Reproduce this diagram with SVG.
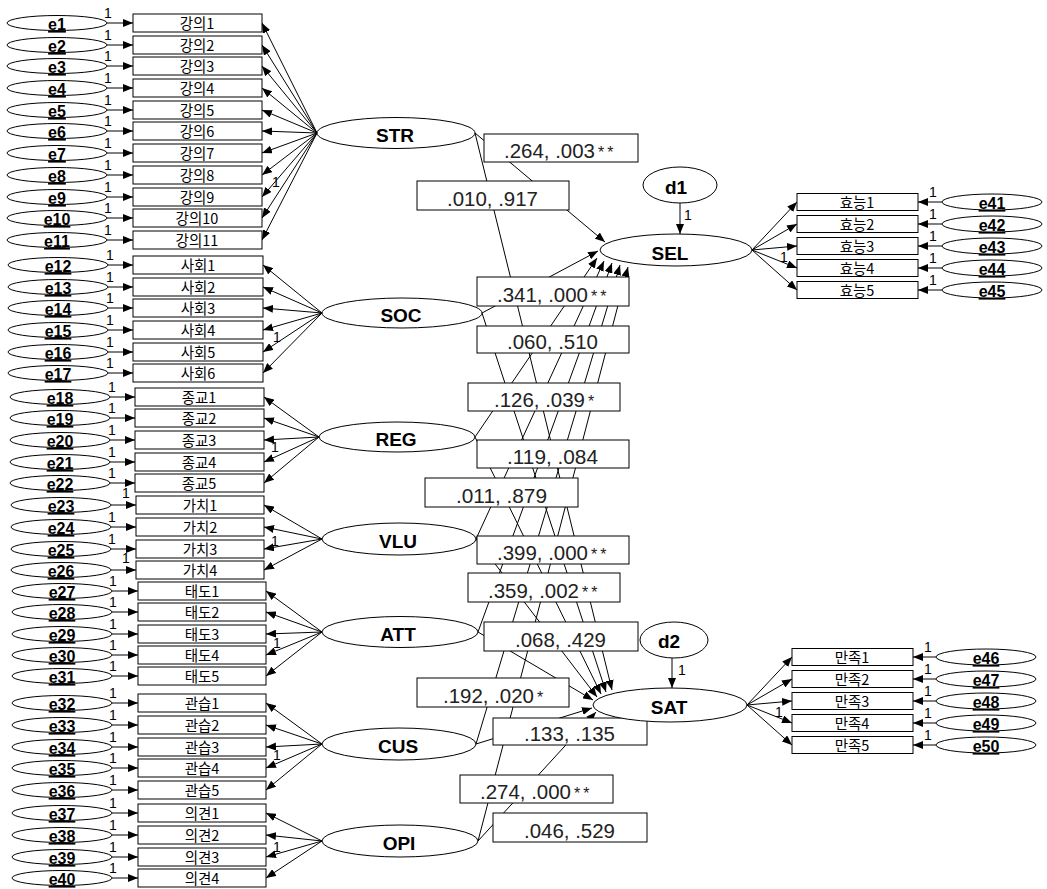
<svg xmlns="http://www.w3.org/2000/svg" width="1047" height="889" viewBox="0 0 1047 889">
<defs>
<marker id="ah" markerWidth="10" markerHeight="8" refX="10" refY="4" orient="auto" markerUnits="userSpaceOnUse"><path d="M0,0 L10,4 L0,8 z" fill="#000"/></marker>
<style>
.ln{stroke:#000;stroke-width:1;fill:none;marker-end:url(#ah)}
.ov{fill:#fff;stroke:#000;stroke-width:1}
.bx{fill:#fff;stroke:#000;stroke-width:1}
.el{font-family:"Liberation Sans",Arial,sans-serif;font-weight:bold;font-size:16px;text-decoration:underline;text-anchor:middle;fill:#000;transform:translateY(-1.5px)}
.kr{font-family:"Noto Sans CJK KR","Noto Sans",sans-serif;font-size:14.5px;text-anchor:middle;fill:#000}
.lat{font-family:"Liberation Sans",Arial,sans-serif;font-weight:bold;font-size:19px;text-anchor:middle;fill:#000}
.one text{font-family:"Liberation Sans",Arial,sans-serif;font-size:14px;fill:#000}
.pv{font-family:"Liberation Sans",Arial,sans-serif;font-size:20px;fill:#222}
.st{font-family:"Liberation Sans",Arial,sans-serif;font-size:16px;fill:#222;letter-spacing:3px}
</style>
</defs>
<rect width="1047" height="889" fill="#fff"/>

<g id="connectors">
<line class="ln" x1="107" y1="23" x2="133" y2="23"/><line class="ln" x1="107" y1="45" x2="133" y2="45"/><line class="ln" x1="107" y1="66" x2="133" y2="66"/><line class="ln" x1="107" y1="88" x2="133" y2="88"/><line class="ln" x1="107" y1="110" x2="133" y2="110"/><line class="ln" x1="107" y1="131" x2="133" y2="131"/><line class="ln" x1="107" y1="153" x2="133" y2="153"/><line class="ln" x1="107" y1="175" x2="133" y2="175"/><line class="ln" x1="107" y1="197" x2="133" y2="197"/><line class="ln" x1="107" y1="218" x2="133" y2="218"/><line class="ln" x1="107" y1="240" x2="133" y2="240"/>
<line class="ln" x1="108" y1="265" x2="133" y2="265"/><line class="ln" x1="108" y1="287" x2="133" y2="287"/><line class="ln" x1="108" y1="308" x2="133" y2="308"/><line class="ln" x1="108" y1="330" x2="133" y2="330"/><line class="ln" x1="108" y1="352" x2="133" y2="352"/><line class="ln" x1="108" y1="373" x2="133" y2="373"/>
<line class="ln" x1="110" y1="397" x2="135" y2="397"/><line class="ln" x1="110" y1="418" x2="135" y2="418"/><line class="ln" x1="110" y1="440" x2="135" y2="440"/><line class="ln" x1="110" y1="462" x2="135" y2="462"/><line class="ln" x1="110" y1="483" x2="135" y2="483"/>
<line class="ln" x1="111" y1="505" x2="136" y2="505"/><line class="ln" x1="111" y1="527" x2="136" y2="527"/><line class="ln" x1="111" y1="549" x2="136" y2="549"/><line class="ln" x1="111" y1="570" x2="136" y2="570"/>
<line class="ln" x1="112" y1="591" x2="138" y2="591"/><line class="ln" x1="112" y1="612" x2="138" y2="612"/><line class="ln" x1="112" y1="634" x2="138" y2="634"/><line class="ln" x1="112" y1="655" x2="138" y2="655"/><line class="ln" x1="112" y1="676" x2="138" y2="676"/>
<line class="ln" x1="112" y1="703" x2="138" y2="703"/><line class="ln" x1="112" y1="725" x2="138" y2="725"/><line class="ln" x1="112" y1="747" x2="138" y2="747"/><line class="ln" x1="112" y1="768" x2="138" y2="768"/><line class="ln" x1="112" y1="790" x2="138" y2="790"/>
<line class="ln" x1="112" y1="813" x2="138" y2="813"/><line class="ln" x1="112" y1="835" x2="138" y2="835"/><line class="ln" x1="112" y1="857" x2="138" y2="857"/><line class="ln" x1="112" y1="878" x2="138" y2="878"/>
<line class="ln" x1="317" y1="133" x2="262" y2="23"/><line class="ln" x1="317" y1="133" x2="262" y2="45"/><line class="ln" x1="317" y1="133" x2="262" y2="66"/><line class="ln" x1="317" y1="133" x2="262" y2="88"/><line class="ln" x1="317" y1="133" x2="262" y2="110"/><line class="ln" x1="317" y1="133" x2="262" y2="131"/><line class="ln" x1="317" y1="133" x2="262" y2="153"/><line class="ln" x1="317" y1="133" x2="262" y2="175"/><line class="ln" x1="317" y1="133" x2="262" y2="197"/><line class="ln" x1="317" y1="133" x2="262" y2="218"/><line class="ln" x1="317" y1="133" x2="262" y2="240"/>
<line class="ln" x1="322" y1="313" x2="263" y2="265"/><line class="ln" x1="322" y1="313" x2="263" y2="287"/><line class="ln" x1="322" y1="313" x2="263" y2="308"/><line class="ln" x1="322" y1="313" x2="263" y2="330"/><line class="ln" x1="322" y1="313" x2="263" y2="352"/><line class="ln" x1="322" y1="313" x2="263" y2="373"/>
<line class="ln" x1="319" y1="437" x2="264" y2="397"/><line class="ln" x1="319" y1="437" x2="264" y2="418"/><line class="ln" x1="319" y1="437" x2="264" y2="440"/><line class="ln" x1="319" y1="437" x2="264" y2="462"/><line class="ln" x1="319" y1="437" x2="264" y2="483"/>
<line class="ln" x1="322" y1="539" x2="264" y2="505"/><line class="ln" x1="322" y1="539" x2="264" y2="527"/><line class="ln" x1="322" y1="539" x2="264" y2="549"/><line class="ln" x1="322" y1="539" x2="264" y2="570"/>
<line class="ln" x1="322" y1="632" x2="266" y2="591"/><line class="ln" x1="322" y1="632" x2="266" y2="612"/><line class="ln" x1="322" y1="632" x2="266" y2="634"/><line class="ln" x1="322" y1="632" x2="266" y2="655"/><line class="ln" x1="322" y1="632" x2="266" y2="676"/>
<line class="ln" x1="322" y1="744" x2="266" y2="703"/><line class="ln" x1="322" y1="744" x2="266" y2="725"/><line class="ln" x1="322" y1="744" x2="266" y2="747"/><line class="ln" x1="322" y1="744" x2="266" y2="768"/><line class="ln" x1="322" y1="744" x2="266" y2="790"/>
<line class="ln" x1="322" y1="841" x2="266" y2="813"/><line class="ln" x1="322" y1="841" x2="266" y2="835"/><line class="ln" x1="322" y1="841" x2="266" y2="857"/><line class="ln" x1="322" y1="841" x2="266" y2="878"/>
<line class="ln" x1="475" y1="133" x2="605" y2="242"/>
<line class="ln" x1="475" y1="133" x2="612" y2="690"/>
<line class="ln" x1="482" y1="313" x2="598" y2="251"/>
<line class="ln" x1="482" y1="313" x2="606" y2="692"/>
<line class="ln" x1="475" y1="437" x2="597" y2="258"/>
<line class="ln" x1="475" y1="437" x2="601" y2="694"/>
<line class="ln" x1="476" y1="539" x2="604" y2="261"/>
<line class="ln" x1="476" y1="539" x2="597" y2="697"/>
<line class="ln" x1="478" y1="632" x2="612" y2="263"/>
<line class="ln" x1="478" y1="632" x2="593" y2="700"/>
<line class="ln" x1="476" y1="744" x2="620" y2="265"/>
<line class="ln" x1="476" y1="744" x2="592" y2="708"/>
<line class="ln" x1="478" y1="841" x2="628" y2="267"/>
<line class="ln" x1="478" y1="841" x2="596" y2="712"/>
<line class="ln" x1="680" y1="203" x2="680" y2="234"/>
<line class="ln" x1="672" y1="658" x2="672" y2="688"/>
<line class="ln" x1="752" y1="250" x2="797" y2="202"/><line class="ln" x1="752" y1="250" x2="797" y2="224"/><line class="ln" x1="752" y1="250" x2="797" y2="246"/><line class="ln" x1="752" y1="250" x2="797" y2="268"/><line class="ln" x1="752" y1="250" x2="797" y2="290"/>
<line class="ln" x1="942" y1="202" x2="918" y2="202"/><line class="ln" x1="942" y1="224" x2="918" y2="224"/><line class="ln" x1="942" y1="246" x2="918" y2="246"/><line class="ln" x1="942" y1="268" x2="918" y2="268"/><line class="ln" x1="942" y1="290" x2="918" y2="290"/>
<line class="ln" x1="747" y1="705" x2="792" y2="657"/><line class="ln" x1="747" y1="705" x2="792" y2="679"/><line class="ln" x1="747" y1="705" x2="792" y2="701"/><line class="ln" x1="747" y1="705" x2="792" y2="723"/><line class="ln" x1="747" y1="705" x2="792" y2="745"/>
<line class="ln" x1="936" y1="657" x2="913" y2="657"/><line class="ln" x1="936" y1="679" x2="913" y2="679"/><line class="ln" x1="936" y1="701" x2="913" y2="701"/><line class="ln" x1="936" y1="723" x2="913" y2="723"/><line class="ln" x1="936" y1="745" x2="913" y2="745"/>
<g class="one">
<text x="104" y="18">1</text><text x="104" y="40">1</text><text x="104" y="61">1</text><text x="104" y="83">1</text><text x="104" y="105">1</text><text x="104" y="126">1</text><text x="104" y="148">1</text><text x="104" y="170">1</text><text x="104" y="192">1</text><text x="104" y="213">1</text><text x="104" y="235">1</text>
<text x="106" y="260">1</text><text x="106" y="282">1</text><text x="106" y="303">1</text><text x="106" y="325">1</text><text x="106" y="347">1</text><text x="106" y="368">1</text>
<text x="108" y="392">1</text><text x="108" y="413">1</text><text x="108" y="435">1</text><text x="108" y="457">1</text><text x="108" y="478">1</text>
<text x="122" y="498">1</text><text x="108" y="522">1</text><text x="108" y="544">1</text><text x="122" y="563">1</text>
<text x="109" y="586">1</text><text x="109" y="607">1</text><text x="109" y="629">1</text><text x="109" y="650">1</text><text x="109" y="671">1</text>
<text x="109" y="698">1</text><text x="109" y="720">1</text><text x="109" y="742">1</text><text x="109" y="763">1</text><text x="109" y="785">1</text>
<text x="109" y="808">1</text><text x="109" y="830">1</text><text x="109" y="852">1</text><text x="109" y="873">1</text>
<text x="272" y="187">1</text><text x="273" y="342">1</text><text x="271" y="452">1</text><text x="271" y="546">1</text><text x="273" y="648">1</text><text x="273" y="760">1</text><text x="273" y="852">1</text>
<text x="780" y="262">1</text><text x="775" y="717">1</text>
<text x="684" y="220">1</text><text x="678" y="675">1</text>
<text x="929" y="197">1</text><text x="929" y="219">1</text><text x="929" y="241">1</text><text x="929" y="263">1</text><text x="929" y="285">1</text>
<text x="924" y="652">1</text><text x="924" y="674">1</text><text x="924" y="696">1</text><text x="924" y="718">1</text><text x="924" y="740">1</text>
</g>
</g>

<g id="path-labels">
<rect class="bx" x="484" y="134" width="154" height="28"/><text class="pv" x="504" y="158" textLength="91" lengthAdjust="spacingAndGlyphs">.264, .003</text><text class="st" x="598" y="158">**</text>
<rect class="bx" x="417" y="181" width="152" height="29"/><text class="pv" x="447" y="206" textLength="91" lengthAdjust="spacingAndGlyphs">.010, .917</text>
<rect class="bx" x="477" y="277" width="152" height="29"/><text class="pv" x="497" y="302" textLength="91" lengthAdjust="spacingAndGlyphs">.341, .000</text><text class="st" x="591" y="302">**</text>
<rect class="bx" x="477" y="326" width="152" height="27"/><text class="pv" x="507" y="349" textLength="91" lengthAdjust="spacingAndGlyphs">.060, .510</text>
<rect class="bx" x="468" y="383" width="152" height="28"/><text class="pv" x="494" y="407" textLength="91" lengthAdjust="spacingAndGlyphs">.126, .039</text><text class="st" x="588" y="407">*</text>
<rect class="bx" x="477" y="440" width="152" height="28"/><text class="pv" x="507" y="464" textLength="91" lengthAdjust="spacingAndGlyphs">.119, .084</text>
<rect class="bx" x="425" y="478" width="153" height="29"/><text class="pv" x="456" y="503" textLength="91" lengthAdjust="spacingAndGlyphs">.011, .879</text>
<rect class="bx" x="477" y="536" width="152" height="28"/><text class="pv" x="497" y="560" textLength="91" lengthAdjust="spacingAndGlyphs">.399, .000</text><text class="st" x="591" y="560">**</text>
<rect class="bx" x="468" y="573" width="152" height="29"/><text class="pv" x="488" y="598" textLength="91" lengthAdjust="spacingAndGlyphs">.359, .002</text><text class="st" x="582" y="598">**</text>
<rect class="bx" x="484" y="622" width="154" height="29"/><text class="pv" x="515" y="647" textLength="91" lengthAdjust="spacingAndGlyphs">.068, .429</text>
<rect class="bx" x="417" y="678" width="152" height="29"/><text class="pv" x="443" y="703" textLength="91" lengthAdjust="spacingAndGlyphs">.192, .020</text><text class="st" x="537" y="703">*</text>
<rect class="bx" x="493" y="718" width="154" height="27"/><text class="pv" x="524" y="741" textLength="91" lengthAdjust="spacingAndGlyphs">.133, .135</text>
<rect class="bx" x="460" y="775" width="153" height="28"/><text class="pv" x="480" y="799" textLength="91" lengthAdjust="spacingAndGlyphs">.274, .000</text><text class="st" x="574" y="799">**</text>
<rect class="bx" x="493" y="813" width="154" height="29"/><text class="pv" x="524" y="838" textLength="91" lengthAdjust="spacingAndGlyphs">.046, .529</text>
</g>

<g id="STR"><ellipse class="ov" cx="396" cy="133" rx="79" ry="15.5"/><text class="lat" x="395" y="142">STR</text></g>
<g id="SOC"><ellipse class="ov" cx="402" cy="313" rx="80" ry="15"/><text class="lat" x="401" y="322">SOC</text></g>
<g id="REG"><ellipse class="ov" cx="397" cy="437" rx="78" ry="15"/><text class="lat" x="396" y="446">REG</text></g>
<g id="VLU"><ellipse class="ov" cx="399" cy="539" rx="77" ry="16"/><text class="lat" x="398" y="548">VLU</text></g>
<g id="ATT"><ellipse class="ov" cx="400" cy="632" rx="78" ry="15.5"/><text class="lat" x="398" y="641">ATT</text></g>
<g id="CUS"><ellipse class="ov" cx="399" cy="744" rx="77" ry="16"/><text class="lat" x="398" y="753">CUS</text></g>
<g id="OPI"><ellipse class="ov" cx="400" cy="841" rx="78" ry="16"/><text class="lat" x="399" y="850">OPI</text></g>
<g id="SEL"><ellipse class="ov" cx="676" cy="250" rx="76" ry="16"/><text class="lat" x="670" y="260">SEL</text></g>
<g id="SAT"><ellipse class="ov" cx="670" cy="705" rx="77" ry="17"/><text class="lat" x="669" y="714">SAT</text></g>
<g id="d1"><ellipse class="ov" cx="680" cy="185" rx="37" ry="18"/><text class="lat" x="676" y="194">d1</text></g>
<g id="d2"><ellipse class="ov" cx="674" cy="640" rx="34" ry="18"/><text class="lat" x="669" y="648">d2</text></g>

<g id="v1"><rect class="bx" x="133" y="14" width="129" height="18"/><text class="kr" x="197" y="29">강의1</text></g>
<g id="v2"><rect class="bx" x="133" y="36" width="129" height="18"/><text class="kr" x="197" y="51">강의2</text></g>
<g id="v3"><rect class="bx" x="133" y="57" width="129" height="18"/><text class="kr" x="197" y="72">강의3</text></g>
<g id="v4"><rect class="bx" x="133" y="79" width="129" height="18"/><text class="kr" x="197" y="94">강의4</text></g>
<g id="v5"><rect class="bx" x="133" y="101" width="129" height="18"/><text class="kr" x="197" y="116">강의5</text></g>
<g id="v6"><rect class="bx" x="133" y="122" width="129" height="18"/><text class="kr" x="197" y="137">강의6</text></g>
<g id="v7"><rect class="bx" x="133" y="144" width="129" height="18"/><text class="kr" x="197" y="159">강의7</text></g>
<g id="v8"><rect class="bx" x="133" y="166" width="129" height="18"/><text class="kr" x="197" y="181">강의8</text></g>
<g id="v9"><rect class="bx" x="133" y="188" width="129" height="18"/><text class="kr" x="197" y="203">강의9</text></g>
<g id="v10"><rect class="bx" x="133" y="209" width="129" height="18"/><text class="kr" x="197" y="224">강의10</text></g>
<g id="v11"><rect class="bx" x="133" y="231" width="129" height="18"/><text class="kr" x="197" y="246">강의11</text></g>
<g id="v12"><rect class="bx" x="133" y="256" width="130" height="18"/><text class="kr" x="198" y="271">사회1</text></g>
<g id="v13"><rect class="bx" x="133" y="278" width="130" height="18"/><text class="kr" x="198" y="293">사회2</text></g>
<g id="v14"><rect class="bx" x="133" y="299" width="130" height="18"/><text class="kr" x="198" y="314">사회3</text></g>
<g id="v15"><rect class="bx" x="133" y="321" width="130" height="18"/><text class="kr" x="198" y="336">사회4</text></g>
<g id="v16"><rect class="bx" x="133" y="343" width="130" height="18"/><text class="kr" x="198" y="358">사회5</text></g>
<g id="v17"><rect class="bx" x="133" y="364" width="130" height="18"/><text class="kr" x="198" y="379">사회6</text></g>
<g id="v18"><rect class="bx" x="135" y="388" width="129" height="18"/><text class="kr" x="199" y="403">종교1</text></g>
<g id="v19"><rect class="bx" x="135" y="409" width="129" height="18"/><text class="kr" x="199" y="424">종교2</text></g>
<g id="v20"><rect class="bx" x="135" y="431" width="129" height="18"/><text class="kr" x="199" y="446">종교3</text></g>
<g id="v21"><rect class="bx" x="135" y="453" width="129" height="18"/><text class="kr" x="199" y="468">종교4</text></g>
<g id="v22"><rect class="bx" x="135" y="474" width="129" height="18"/><text class="kr" x="199" y="489">종교5</text></g>
<g id="v23"><rect class="bx" x="136" y="496" width="128" height="18"/><text class="kr" x="200" y="511">가치1</text></g>
<g id="v24"><rect class="bx" x="136" y="518" width="128" height="18"/><text class="kr" x="200" y="533">가치2</text></g>
<g id="v25"><rect class="bx" x="136" y="540" width="128" height="18"/><text class="kr" x="200" y="555">가치3</text></g>
<g id="v26"><rect class="bx" x="136" y="561" width="128" height="18"/><text class="kr" x="200" y="576">가치4</text></g>
<g id="v27"><rect class="bx" x="138" y="582" width="128" height="18"/><text class="kr" x="202" y="597">태도1</text></g>
<g id="v28"><rect class="bx" x="138" y="603" width="128" height="18"/><text class="kr" x="202" y="618">태도2</text></g>
<g id="v29"><rect class="bx" x="138" y="625" width="128" height="18"/><text class="kr" x="202" y="640">태도3</text></g>
<g id="v30"><rect class="bx" x="138" y="646" width="128" height="18"/><text class="kr" x="202" y="661">태도4</text></g>
<g id="v31"><rect class="bx" x="138" y="667" width="128" height="18"/><text class="kr" x="202" y="682">태도5</text></g>
<g id="v32"><rect class="bx" x="138" y="694" width="128" height="18"/><text class="kr" x="202" y="709">관습1</text></g>
<g id="v33"><rect class="bx" x="138" y="716" width="128" height="18"/><text class="kr" x="202" y="731">관습2</text></g>
<g id="v34"><rect class="bx" x="138" y="738" width="128" height="18"/><text class="kr" x="202" y="753">관습3</text></g>
<g id="v35"><rect class="bx" x="138" y="759" width="128" height="18"/><text class="kr" x="202" y="774">관습4</text></g>
<g id="v36"><rect class="bx" x="138" y="781" width="128" height="18"/><text class="kr" x="202" y="796">관습5</text></g>
<g id="v37"><rect class="bx" x="138" y="804" width="128" height="18"/><text class="kr" x="202" y="819">의견1</text></g>
<g id="v38"><rect class="bx" x="138" y="826" width="128" height="18"/><text class="kr" x="202" y="841">의견2</text></g>
<g id="v39"><rect class="bx" x="138" y="848" width="128" height="18"/><text class="kr" x="202" y="863">의견3</text></g>
<g id="v40"><rect class="bx" x="138" y="869" width="128" height="18"/><text class="kr" x="202" y="884">의견4</text></g>
<g id="v41"><rect class="bx" x="797" y="193.5" width="121" height="17"/><text class="kr" x="857" y="208">효능1</text></g>
<g id="v42"><rect class="bx" x="797" y="215.5" width="121" height="17"/><text class="kr" x="857" y="230">효능2</text></g>
<g id="v43"><rect class="bx" x="797" y="237.5" width="121" height="17"/><text class="kr" x="857" y="252">효능3</text></g>
<g id="v44"><rect class="bx" x="797" y="259.5" width="121" height="17"/><text class="kr" x="857" y="274">효능4</text></g>
<g id="v45"><rect class="bx" x="797" y="281.5" width="121" height="17"/><text class="kr" x="857" y="296">효능5</text></g>
<g id="v46"><rect class="bx" x="792" y="648.5" width="121" height="17"/><text class="kr" x="852" y="663">만족1</text></g>
<g id="v47"><rect class="bx" x="792" y="670.5" width="121" height="17"/><text class="kr" x="852" y="685">만족2</text></g>
<g id="v48"><rect class="bx" x="792" y="692.5" width="121" height="17"/><text class="kr" x="852" y="707">만족3</text></g>
<g id="v49"><rect class="bx" x="792" y="714.5" width="121" height="17"/><text class="kr" x="852" y="729">만족4</text></g>
<g id="v50"><rect class="bx" x="792" y="736.5" width="121" height="17"/><text class="kr" x="852" y="751">만족5</text></g>

<g id="e1"><ellipse class="ov" cx="57" cy="23" rx="50" ry="7.5"/><text class="el" x="57" y="31.5">e1</text></g>
<g id="e2"><ellipse class="ov" cx="57" cy="45" rx="50" ry="7.5"/><text class="el" x="57" y="53.5">e2</text></g>
<g id="e3"><ellipse class="ov" cx="57" cy="66" rx="50" ry="7.5"/><text class="el" x="57" y="74.5">e3</text></g>
<g id="e4"><ellipse class="ov" cx="57" cy="88" rx="50" ry="7.5"/><text class="el" x="57" y="96.5">e4</text></g>
<g id="e5"><ellipse class="ov" cx="57" cy="110" rx="50" ry="7.5"/><text class="el" x="57" y="118.5">e5</text></g>
<g id="e6"><ellipse class="ov" cx="57" cy="131" rx="50" ry="7.5"/><text class="el" x="57" y="139.5">e6</text></g>
<g id="e7"><ellipse class="ov" cx="57" cy="153" rx="50" ry="7.5"/><text class="el" x="57" y="161.5">e7</text></g>
<g id="e8"><ellipse class="ov" cx="57" cy="175" rx="50" ry="7.5"/><text class="el" x="57" y="183.5">e8</text></g>
<g id="e9"><ellipse class="ov" cx="57" cy="197" rx="50" ry="7.5"/><text class="el" x="57" y="205.5">e9</text></g>
<g id="e10"><ellipse class="ov" cx="57" cy="218" rx="50" ry="7.5"/><text class="el" x="57" y="226.5">e10</text></g>
<g id="e11"><ellipse class="ov" cx="57" cy="240" rx="50" ry="7.5"/><text class="el" x="57" y="248.5">e11</text></g>
<g id="e12"><ellipse class="ov" cx="58" cy="265" rx="50" ry="7.5"/><text class="el" x="58" y="273.5">e12</text></g>
<g id="e13"><ellipse class="ov" cx="58" cy="287" rx="50" ry="7.5"/><text class="el" x="58" y="295.5">e13</text></g>
<g id="e14"><ellipse class="ov" cx="58" cy="308" rx="50" ry="7.5"/><text class="el" x="58" y="316.5">e14</text></g>
<g id="e15"><ellipse class="ov" cx="58" cy="330" rx="50" ry="7.5"/><text class="el" x="58" y="338.5">e15</text></g>
<g id="e16"><ellipse class="ov" cx="58" cy="352" rx="50" ry="7.5"/><text class="el" x="58" y="360.5">e16</text></g>
<g id="e17"><ellipse class="ov" cx="58" cy="373" rx="50" ry="7.5"/><text class="el" x="58" y="381.5">e17</text></g>
<g id="e18"><ellipse class="ov" cx="60" cy="397" rx="50" ry="7.5"/><text class="el" x="60" y="405.5">e18</text></g>
<g id="e19"><ellipse class="ov" cx="60" cy="418" rx="50" ry="7.5"/><text class="el" x="60" y="426.5">e19</text></g>
<g id="e20"><ellipse class="ov" cx="60" cy="440" rx="50" ry="7.5"/><text class="el" x="60" y="448.5">e20</text></g>
<g id="e21"><ellipse class="ov" cx="60" cy="462" rx="50" ry="7.5"/><text class="el" x="60" y="470.5">e21</text></g>
<g id="e22"><ellipse class="ov" cx="60" cy="483" rx="50" ry="7.5"/><text class="el" x="60" y="491.5">e22</text></g>
<g id="e23"><ellipse class="ov" cx="61" cy="505" rx="50" ry="7.5"/><text class="el" x="61" y="513.5">e23</text></g>
<g id="e24"><ellipse class="ov" cx="61" cy="527" rx="50" ry="7.5"/><text class="el" x="61" y="535.5">e24</text></g>
<g id="e25"><ellipse class="ov" cx="61" cy="549" rx="50" ry="7.5"/><text class="el" x="61" y="557.5">e25</text></g>
<g id="e26"><ellipse class="ov" cx="61" cy="570" rx="50" ry="7.5"/><text class="el" x="61" y="578.5">e26</text></g>
<g id="e27"><ellipse class="ov" cx="62" cy="591" rx="50" ry="7.5"/><text class="el" x="62" y="599.5">e27</text></g>
<g id="e28"><ellipse class="ov" cx="62" cy="612" rx="50" ry="7.5"/><text class="el" x="62" y="620.5">e28</text></g>
<g id="e29"><ellipse class="ov" cx="62" cy="634" rx="50" ry="7.5"/><text class="el" x="62" y="642.5">e29</text></g>
<g id="e30"><ellipse class="ov" cx="62" cy="655" rx="50" ry="7.5"/><text class="el" x="62" y="663.5">e30</text></g>
<g id="e31"><ellipse class="ov" cx="62" cy="676" rx="50" ry="7.5"/><text class="el" x="62" y="684.5">e31</text></g>
<g id="e32"><ellipse class="ov" cx="62" cy="703" rx="50" ry="7.5"/><text class="el" x="62" y="711.5">e32</text></g>
<g id="e33"><ellipse class="ov" cx="62" cy="725" rx="50" ry="7.5"/><text class="el" x="62" y="733.5">e33</text></g>
<g id="e34"><ellipse class="ov" cx="62" cy="747" rx="50" ry="7.5"/><text class="el" x="62" y="755.5">e34</text></g>
<g id="e35"><ellipse class="ov" cx="62" cy="768" rx="50" ry="7.5"/><text class="el" x="62" y="776.5">e35</text></g>
<g id="e36"><ellipse class="ov" cx="62" cy="790" rx="50" ry="7.5"/><text class="el" x="62" y="798.5">e36</text></g>
<g id="e37"><ellipse class="ov" cx="62" cy="813" rx="50" ry="7.5"/><text class="el" x="62" y="821.5">e37</text></g>
<g id="e38"><ellipse class="ov" cx="62" cy="835" rx="50" ry="7.5"/><text class="el" x="62" y="843.5">e38</text></g>
<g id="e39"><ellipse class="ov" cx="62" cy="857" rx="50" ry="7.5"/><text class="el" x="62" y="865.5">e39</text></g>
<g id="e40"><ellipse class="ov" cx="62" cy="878" rx="50" ry="7.5"/><text class="el" x="62" y="886.5">e40</text></g>
<g id="e41"><ellipse class="ov" cx="992" cy="202" rx="50" ry="8"/><text class="el" x="992" y="210.5">e41</text></g>
<g id="e42"><ellipse class="ov" cx="992" cy="224" rx="50" ry="8"/><text class="el" x="992" y="232.5">e42</text></g>
<g id="e43"><ellipse class="ov" cx="992" cy="246" rx="50" ry="8"/><text class="el" x="992" y="254.5">e43</text></g>
<g id="e44"><ellipse class="ov" cx="992" cy="268" rx="50" ry="8"/><text class="el" x="992" y="276.5">e44</text></g>
<g id="e45"><ellipse class="ov" cx="992" cy="290" rx="50" ry="8"/><text class="el" x="992" y="298.5">e45</text></g>
<g id="e46"><ellipse class="ov" cx="986" cy="657" rx="50" ry="8"/><text class="el" x="986" y="665.5">e46</text></g>
<g id="e47"><ellipse class="ov" cx="986" cy="679" rx="50" ry="8"/><text class="el" x="986" y="687.5">e47</text></g>
<g id="e48"><ellipse class="ov" cx="986" cy="701" rx="50" ry="8"/><text class="el" x="986" y="709.5">e48</text></g>
<g id="e49"><ellipse class="ov" cx="986" cy="723" rx="50" ry="8"/><text class="el" x="986" y="731.5">e49</text></g>
<g id="e50"><ellipse class="ov" cx="986" cy="745" rx="50" ry="8"/><text class="el" x="986" y="753.5">e50</text></g>
</svg>
